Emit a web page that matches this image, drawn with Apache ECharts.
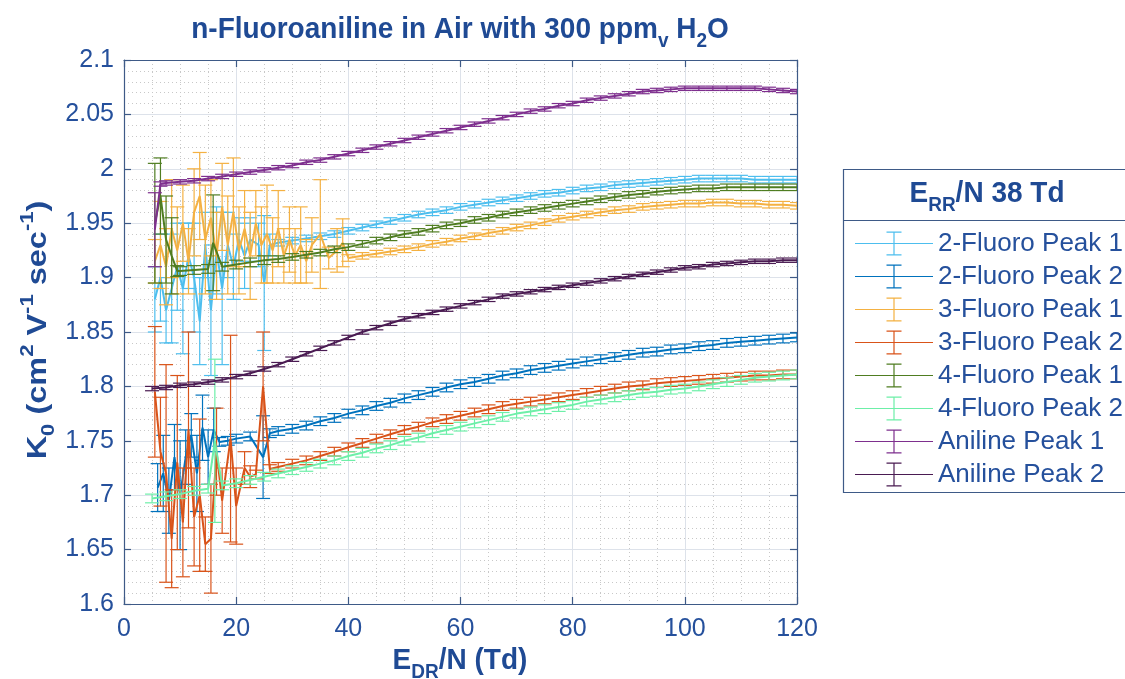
<!DOCTYPE html>
<html><head><meta charset="utf-8">
<script src="https://cdn.jsdelivr.net/npm/echarts@6/dist/echarts.min.js"></script>
<style>html,body{margin:0;padding:0;background:#fff}#c{width:1125px;height:679px}</style>
</head><body><div id="c"></div>
<script>
// ---- data: [E_DR/N (Td), K0, error] ----
const NAMES = ['2-Fluoro Peak 1','2-Fluoro Peak 2','3-Fluoro Peak 1','3-Fluoro Peak 2','4-Fluoro Peak 1','4-Fluoro Peak 2','Aniline Peak 1','Aniline Peak 2'];
const COLORS = ['#4DBEEE','#0072BD','#F4B142','#D95319','#4F7D21','#6DEFA8','#7E2F8E','#4A1B52'];
const X_TICKS = [0,20,40,60,80,100,120];
const Y_TICKS = [1.6,1.65,1.7,1.75,1.8,1.85,1.9,1.95,2,2.05,2.1];

const S_2F1 = [[5.5,1.88,0.03],[6.5,1.90,0.04],[7.5,1.87,0.03],[8.5,1.89,0.05],[9.5,1.91,0.04],[10.5,1.89,0.06],[11.5,1.92,0.03],[12.5,1.90,0.05],[13.5,1.86,0.04],[14.5,1.93,0.03],[15.5,1.87,0.06],[16.5,1.925,0.04],[17.5,1.89,0.07],[18.5,1.93,0.03],[19.5,1.91,0.03],[20.5,1.935,0.02],[21.5,1.92,0.03],[22.5,1.935,0.02],[24,1.93,0.02],[25,1.895,0.062],[26,1.93,0.01],
[27.5,1.932,0.003],[30,1.934,0.003],[32.5,1.936,0.003],[35,1.938,0.003],[37.5,1.940,0.003],[40,1.943,0.003],[42.5,1.946,0.003],[45,1.949,0.003],[47.5,1.952,0.003],[50,1.955,0.003],[52.5,1.958,0.003],[55,1.960,0.003],[57.5,1.962,0.003],[60,1.965,0.003],[62.5,1.967,0.003],[65,1.969,0.003],[67.5,1.971,0.003],[70,1.973,0.003],[72.5,1.975,0.003],[75,1.977,0.003],[77.5,1.978,0.003],[80,1.980,0.003],[82.5,1.982,0.003],[85,1.983,0.003],[87.5,1.985,0.003],[90,1.986,0.003],[92.5,1.987,0.003],[95,1.988,0.003],[97.5,1.989,0.003],[100,1.990,0.003],[102.5,1.991,0.003],[105,1.991,0.003],[107.5,1.991,0.003],[110,1.991,0.003],[112.5,1.990,0.003],[115,1.990,0.003],[117.5,1.990,0.003],[120,1.990,0.003]];

const S_2F2 = [[6,1.707,0.022],[7,1.72,0.035],[8,1.695,0.03],[9,1.735,0.03],[10,1.70,0.05],[11,1.735,0.025],[12,1.755,0.02],[13,1.72,0.035],[14,1.762,0.03],[15,1.735,0.025],[16,1.76,0.02],[17,1.749,0.004],[18.5,1.750,0.004],[20,1.752,0.004],[22.5,1.754,0.004],[24.8,1.735,0.038],[26,1.757,0.004],
[27.5,1.759,0.004],[30,1.761,0.004],[32.5,1.764,0.004],[35,1.768,0.004],[37.5,1.771,0.004],[40,1.775,0.004],[42.5,1.778,0.004],[45,1.782,0.004],[47.5,1.785,0.004],[50,1.789,0.004],[52.5,1.792,0.004],[55,1.795,0.004],[57.5,1.799,0.004],[60,1.802,0.004],[62.5,1.804,0.004],[65,1.807,0.004],[67.5,1.810,0.004],[70,1.812,0.004],[72.5,1.815,0.004],[75,1.817,0.004],[77.5,1.819,0.004],[80,1.821,0.004],[82.5,1.823,0.004],[85,1.825,0.004],[87.5,1.827,0.004],[90,1.829,0.004],[92.5,1.831,0.004],[95,1.832,0.004],[97.5,1.834,0.004],[100,1.835,0.004],[102.5,1.837,0.004],[105,1.838,0.004],[107.5,1.840,0.004],[110,1.841,0.004],[112.5,1.842,0.004],[115,1.843,0.004],[117.5,1.844,0.004],[120,1.845,0.004]];

const S_3F1 = [[5.5,1.915,0.02],[6.5,1.93,0.04],[7.5,1.91,0.035],[8.5,1.945,0.045],[9.5,1.925,0.04],[10.5,1.95,0.035],[11.5,1.915,0.03],[12.5,1.96,0.04],[13.5,1.975,0.04],[14.5,1.935,0.05],[15.5,1.955,0.035],[16.5,1.92,0.04],[17.5,1.965,0.04],[18.5,1.93,0.045],[19.5,1.96,0.05],[20.5,1.925,0.04],[21.5,1.945,0.035],[22.5,1.92,0.04],[23.5,1.95,0.03],[24.5,1.93,0.035],[25.5,1.94,0.045],[26.5,1.925,0.03],[27.5,1.945,0.035],[28.5,1.92,0.025],[29.5,1.935,0.03],[30.5,1.92,0.025],[31.5,1.93,0.035],[32.5,1.915,0.02],[33.5,1.93,0.025],[35,1.94,0.05],[36.5,1.918,0.01],[38,1.925,0.02],[39,1.932,0.022],
[40,1.918,0.003],[42.5,1.920,0.003],[45,1.922,0.003],[47.5,1.924,0.003],[50,1.926,0.003],[52.5,1.928,0.003],[55,1.931,0.003],[57.5,1.933,0.003],[60,1.936,0.003],[62.5,1.938,0.003],[65,1.941,0.003],[67.5,1.943,0.003],[70,1.946,0.003],[72.5,1.948,0.003],[75,1.951,0.003],[77.5,1.954,0.003],[80,1.956,0.003],[82.5,1.958,0.003],[85,1.960,0.003],[87.5,1.962,0.003],[90,1.963,0.003],[92.5,1.965,0.003],[95,1.966,0.003],[97.5,1.967,0.003],[100,1.968,0.003],[102.5,1.968,0.003],[105,1.969,0.003],[107.5,1.969,0.003],[110,1.968,0.003],[112.5,1.968,0.003],[115,1.967,0.003],[117.5,1.967,0.003],[120,1.966,0.003]];

const S_3F2 = [[5.5,1.795,0.06],[6.5,1.74,0.05],[7.5,1.72,0.10],[8.5,1.66,0.045],[9.5,1.73,0.08],[10.5,1.675,0.05],[11.5,1.76,0.09],[12.5,1.68,0.045],[13.5,1.70,0.07],[14.5,1.655,0.025],[15.5,1.66,0.05],[16.5,1.74,0.04],[17.5,1.695,0.03],[19,1.752,0.095],[20,1.69,0.035],[21.5,1.725,0.015],[22.5,1.717,0.01],[23.5,1.719,0.004],[24.8,1.80,0.05],[26,1.724,0.004],
[27.5,1.726,0.004],[30,1.729,0.004],[32.5,1.732,0.004],[35,1.736,0.004],[37.5,1.740,0.004],[40,1.744,0.004],[42.5,1.748,0.004],[45,1.752,0.004],[47.5,1.756,0.004],[50,1.760,0.004],[52.5,1.763,0.004],[55,1.767,0.004],[57.5,1.770,0.004],[60,1.773,0.004],[62.5,1.776,0.004],[65,1.779,0.004],[67.5,1.782,0.004],[70,1.784,0.004],[72.5,1.786,0.004],[75,1.788,0.004],[77.5,1.790,0.004],[80,1.792,0.004],[82.5,1.794,0.004],[85,1.796,0.004],[87.5,1.798,0.004],[90,1.800,0.004],[92.5,1.801,0.004],[95,1.803,0.004],[97.5,1.804,0.004],[100,1.805,0.004],[102.5,1.806,0.004],[105,1.807,0.004],[107.5,1.808,0.004],[110,1.809,0.004],[112.5,1.810,0.004],[115,1.810,0.004],[117.5,1.811,0.004],[120,1.811,0.004]];

const S_4F1 = [[5.5,1.95,0.055],[6.5,1.975,0.035],[7.5,1.935,0.04],[8.5,1.92,0.035],[9.5,1.906,0.005],[10,1.906,0.004],[12.5,1.907,0.004],[15,1.908,0.004],[15.9,1.932,0.044],[17.5,1.910,0.004],[20,1.912,0.004],[22.5,1.914,0.004],[25,1.916,0.004],
[27.5,1.917,0.003],[30,1.919,0.003],[32.5,1.921,0.003],[35,1.923,0.003],[37.5,1.926,0.003],[40,1.928,0.003],[42.5,1.931,0.003],[45,1.934,0.003],[47.5,1.937,0.003],[50,1.940,0.003],[52.5,1.942,0.003],[55,1.945,0.003],[57.5,1.948,0.003],[60,1.950,0.003],[62.5,1.953,0.003],[65,1.955,0.003],[67.5,1.958,0.003],[70,1.960,0.003],[72.5,1.962,0.003],[75,1.964,0.003],[77.5,1.966,0.003],[80,1.968,0.003],[82.5,1.970,0.003],[85,1.972,0.003],[87.5,1.974,0.003],[90,1.976,0.003],[92.5,1.977,0.003],[95,1.979,0.003],[97.5,1.980,0.003],[100,1.981,0.003],[102.5,1.982,0.003],[105,1.982,0.003],[107.5,1.983,0.003],[110,1.983,0.003],[112.5,1.983,0.003],[115,1.983,0.003],[117.5,1.983,0.003],[120,1.983,0.003]];

const S_4F2 = [[5,1.697,0.004],[7.5,1.699,0.004],[10,1.701,0.004],[12.5,1.704,0.004],[15,1.706,0.004],[16.2,1.75,0.075],[17.5,1.709,0.004],[20,1.711,0.004],[22.5,1.714,0.004],[25,1.717,0.004],[27.5,1.720,0.004],[30,1.723,0.004],[32.5,1.726,0.004],[35,1.729,0.004],[37.5,1.732,0.004],[40,1.736,0.004],[42.5,1.739,0.004],[45,1.743,0.004],[47.5,1.746,0.004],[50,1.750,0.004],[52.5,1.753,0.004],[55,1.757,0.004],[57.5,1.760,0.004],[60,1.763,0.004],[62.5,1.766,0.004],[65,1.769,0.004],[67.5,1.772,0.004],[70,1.775,0.004],[72.5,1.777,0.004],[75,1.779,0.004],[77.5,1.781,0.004],[80,1.783,0.004],[82.5,1.786,0.004],[85,1.788,0.004],[87.5,1.790,0.004],[90,1.792,0.004],[92.5,1.794,0.004],[95,1.795,0.004],[97.5,1.797,0.004],[100,1.798,0.004],[102.5,1.800,0.004],[105,1.802,0.004],[107.5,1.804,0.004],[110,1.806,0.004],[112.5,1.808,0.004],[115,1.809,0.004],[117.5,1.810,0.004],[120,1.811,0.004]];

const S_AP1 = [[5.5,1.944,0.034],[6.5,1.986,0.002],[7.5,1.987,0.002],[10,1.988,0.002],[12.5,1.989,0.002],[15,1.991,0.002],[17.5,1.993,0.002],[20,1.995,0.002],[22.5,1.997,0.002],[25,1.999,0.002],[27.5,2.001,0.002],[30,2.003,0.002],[32.5,2.006,0.002],[35,2.008,0.002],[37.5,2.011,0.002],[40,2.014,0.002],[42.5,2.017,0.002],[45,2.020,0.002],[47.5,2.023,0.002],[50,2.026,0.002],[52.5,2.029,0.002],[55,2.032,0.002],[57.5,2.035,0.002],[60,2.038,0.002],[62.5,2.041,0.002],[65,2.044,0.002],[67.5,2.047,0.002],[70,2.050,0.002],[72.5,2.053,0.002],[75,2.055,0.002],[77.5,2.058,0.002],[80,2.060,0.002],[82.5,2.063,0.002],[85,2.065,0.002],[87.5,2.067,0.002],[90,2.069,0.002],[92.5,2.071,0.002],[95,2.072,0.002],[97.5,2.073,0.002],[100,2.074,0.002],[102.5,2.074,0.002],[105,2.074,0.002],[107.5,2.074,0.002],[110,2.074,0.002],[112.5,2.074,0.002],[115,2.073,0.002],[117.5,2.072,0.002],[120,2.071,0.002]];

const S_AP2 = [[5,1.798,0.002],[7.5,1.799,0.002],[10,1.801,0.002],[12.5,1.802,0.002],[15,1.804,0.002],[17.5,1.806,0.002],[20,1.809,0.002],[22.5,1.812,0.002],[25,1.816,0.002],[27.5,1.820,0.002],[30,1.825,0.002],[32.5,1.830,0.002],[35,1.835,0.002],[37.5,1.840,0.002],[40,1.845,0.002],[42.5,1.850,0.002],[45,1.854,0.002],[47.5,1.858,0.002],[50,1.862,0.002],[52.5,1.865,0.002],[55,1.868,0.002],[57.5,1.871,0.002],[60,1.874,0.002],[62.5,1.877,0.002],[65,1.880,0.002],[67.5,1.883,0.002],[70,1.885,0.002],[72.5,1.887,0.002],[75,1.889,0.002],[77.5,1.891,0.002],[80,1.893,0.002],[82.5,1.895,0.002],[85,1.897,0.002],[87.5,1.899,0.002],[90,1.901,0.002],[92.5,1.903,0.002],[95,1.905,0.002],[97.5,1.907,0.002],[100,1.909,0.002],[102.5,1.910,0.002],[105,1.912,0.002],[107.5,1.913,0.002],[110,1.914,0.002],[112.5,1.915,0.002],[115,1.915,0.002],[117.5,1.916,0.002],[120,1.916,0.002]];

const SERIES_DATA = [S_2F1,S_2F2,S_3F1,S_3F2,S_4F1,S_4F2,S_AP1,S_AP2];

// ---- styling ----
const FF = '"Liberation Sans", Arial, Helvetica, sans-serif';
const TXT = '#25509c';
const TTL = '#1f4a94';
const AX = '#3e5a87';
const CAP = 7;

function errRenderer(color){
  return function(params, api){
    const x = api.value(0), y = api.value(1), e = api.value(2);
    const t = api.coord([x, y + e]);
    const b = api.coord([x, y - e]);
    const st = {stroke: color, lineWidth: 1.2, fill: null};
    return {type:'group', children:[
      {type:'line', shape:{x1:t[0], y1:t[1], x2:b[0], y2:b[1]}, style:st},
      {type:'line', shape:{x1:t[0]-CAP, y1:t[1], x2:t[0]+CAP, y2:t[1]}, style:st},
      {type:'line', shape:{x1:b[0]-CAP, y1:b[1], x2:b[0]+CAP, y2:b[1]}, style:st}
    ]};
  };
}

const series = [];
NAMES.forEach((n, i) => {
  series.push({
    name: n, type: 'custom', renderItem: errRenderer(COLORS[i]),
    data: SERIES_DATA[i], encode: {x: 0, y: 1}, itemStyle: {color: COLORS[i]},
    z: 2 + i * 2, silent: true, clip: true
  });
  series.push({
    name: n, type: 'line', data: SERIES_DATA[i].map(d => [d[0], d[1]]),
    showSymbol: false, symbol: 'none', lineStyle: {color: COLORS[i], width: 2},
    itemStyle: {color: COLORS[i]}, z: 3 + i * 2, silent: true
  });
});

const ICON = 'path://M0,11.4h78v1.2h-78z M38.4,0h1.2v24h-1.2z M31.5,0h15v1.2h-15z M31.5,22.8h15v1.2h-15z';

const rich = {
  b:   {fontSize: 28, fontWeight: 'bold', fontFamily: FF, fill: TTL, lineHeight: 40, verticalAlign: 'middle'},
  sub: {fontSize: 19, fontWeight: 'bold', fontFamily: FF, fill: TTL, lineHeight: 21, verticalAlign: 'bottom'},
  sup: {fontSize: 19, fontWeight: 'bold', fontFamily: FF, fill: TTL, lineHeight: 21, verticalAlign: 'top'}
};

const axisCommon = {
  axisLine: {show: true, onZero: false, lineStyle: {color: AX, width: 1.2}},
  axisTick: {show: true, inside: true, length: 7, lineStyle: {color: AX, width: 1.2}}
};

const option = {
  animation: false,
  backgroundColor: '#fff',
  grid: {left: 124, right: 328, top: 60, bottom: 75},
  xAxis: [
    Object.assign({type: 'value', min: X_TICKS[0], max: X_TICKS[X_TICKS.length-1], interval: 20,
      axisLabel: {fontSize: 25, color: TXT, fontFamily: FF, margin: 13},
      splitLine: {show: true, lineStyle: {color: '#dde2ea', width: 1}},
      minorTick: {show: false, splitNumber: 4},
      minorSplitLine: {show: true, lineStyle: {color: '#c8c8c8', width: 1, type: [1, 3]}}
    }, axisCommon),
    Object.assign({type: 'value', position: 'top', min: X_TICKS[0], max: X_TICKS[X_TICKS.length-1], interval: 20,
      axisLabel: {show: false}, splitLine: {show: false}}, axisCommon)
  ],
  yAxis: [
    Object.assign({type: 'value', min: Y_TICKS[0], max: Y_TICKS[Y_TICKS.length-1], interval: 0.05,
      axisLabel: {fontSize: 25, color: TXT, fontFamily: FF, margin: 10, formatter: v => String(+v.toFixed(2))},
      splitLine: {show: true, lineStyle: {color: '#dde2ea', width: 1}},
      minorTick: {show: false, splitNumber: 5},
      minorSplitLine: {show: true, lineStyle: {color: '#c8c8c8', width: 1, type: [1, 3]}}
    }, axisCommon),
    Object.assign({type: 'value', position: 'right', min: Y_TICKS[0], max: Y_TICKS[Y_TICKS.length-1], interval: 0.05,
      axisLabel: {show: false}, splitLine: {show: false}}, axisCommon)
  ],
  legend: {
    orient: 'vertical', left: 850, top: 222, itemWidth: 78, itemHeight: 24, itemGap: 0,
    data: NAMES.map((n, i) => ({name: n, icon: ICON})),
    textStyle: {fontSize: 26, color: TXT, fontFamily: FF, lineHeight: 33},
    selectedMode: false
  },
  graphic: [
    {type: 'rect', z: 1, shape: {x: 843.5, y: 169.5, width: 300, height: 323},
      style: {fill: '#fff', stroke: AX, lineWidth: 1.2}},
    {type: 'line', z: 1, shape: {x1: 843.5, y1: 220.5, x2: 1125, y2: 220.5},
      style: {stroke: AX, lineWidth: 1.2}},
    {type: 'text', z: 5, x: 987, y: 194, scaleY: 1.08,
      style: {text: '{b|E}{sub|RR}{b|/N 38 Td}', rich: rich, align: 'center', verticalAlign: 'middle'}},
    {type: 'text', z: 5, x: 460, y: 30, scaleY: 1.08,
      style: {text: '{b|n-Fluoroaniline in Air with 300 ppm}{sub|v}{b| H}{sub|2}{b|O}', rich: rich, align: 'center', verticalAlign: 'middle'}},
    {type: 'text', z: 5, x: 460, y: 661, scaleY: 1.08,
      style: {text: '{b|E}{sub|DR}{b|/N (Td)}', rich: rich, align: 'center', verticalAlign: 'middle'}},
    {type: 'text', z: 5, x: 38, y: 330, rotation: Math.PI / 2, scaleX: 1.16,
      style: {text: '{b|K}{sub|0}{b| (cm}{sup|2}{b| V}{sup|-1}{b| sec}{sup|-1}{b|)}', rich: rich, align: 'center', verticalAlign: 'middle'}}
  ],
  series: series
};

const chart = echarts.init(document.getElementById('c'), null, {renderer: 'canvas'});
chart.setOption(option);
</script>
</body></html>
